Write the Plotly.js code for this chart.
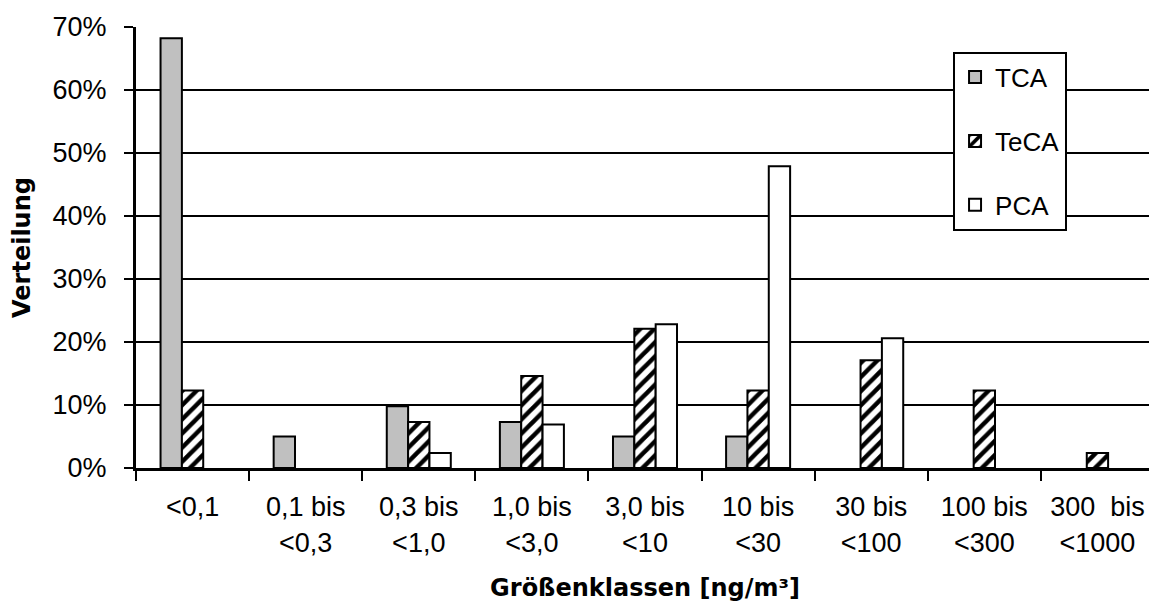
<!DOCTYPE html>
<html>
<head>
<meta charset="utf-8">
<script src="https://cdn.plot.ly/plotly-3.0.1.min.js"></script>
<style>
html, body { margin: 0; padding: 0; overflow: hidden; background: #fff; }
#chart { width: 1154px; height: 606px; }
</style>
</head>
<body>
<div id="chart"></div>
<script>
// Data (null = no bar drawn)
const categories = [
  "&lt;0,1",
  "0,1 bis<br>&lt;0,3",
  "0,3 bis<br>&lt;1,0",
  "1,0 bis<br>&lt;3,0",
  "3,0 bis<br>&lt;10",
  "10 bis<br>&lt;30",
  "30 bis<br>&lt;100",
  "100 bis<br>&lt;300",
  "300\u00a0\u00a0bis<br>&lt;1000"
];
const seriesNames = ["TCA", "TeCA", "PCA"];
const tcaValues  = [0.682, 0.050, 0.098, 0.073, 0.050, 0.050, null, null, null];
const tecaValues = [0.123, null, 0.073, 0.146, 0.221, 0.123, 0.171, 0.123, 0.024];
const pcaValues  = [null, null, 0.024, 0.069, 0.228, 0.479, 0.206, null, null];
const yTickValues = [0, 0.1, 0.2, 0.3, 0.4, 0.5, 0.6, 0.7];

const outline = { color: "#000", width: 2 };

const traces = [
  {
    type: "bar", name: seriesNames[0], x: categories, y: tcaValues,
    legendgroup: "a",
    marker: { color: "#c0c0c0", line: outline }
  },
  {
    type: "bar", name: seriesNames[1], x: categories, y: tecaValues,
    legendgroup: "b",
    marker: {
      color: "#fff", line: outline,
      pattern: { shape: "/", fgcolor: "#000", bgcolor: "#fff", size: 10, solidity: 0.45 }
    }
  },
  {
    type: "bar", name: seriesNames[2], x: categories, y: pcaValues,
    legendgroup: "c",
    marker: { color: "#fff", line: outline }
  }
];

const layout = {
  width: 1154, height: 606,
  margin: { l: 136, r: 0, t: 27, b: 138 },
  paper_bgcolor: "#fff", plot_bgcolor: "#fff",
  barmode: "group", bargap: 0.434, bargroupgap: 0,
  showlegend: true,
  font: { family: "Liberation Sans, Arial, sans-serif", color: "#000", size: 27 },
  xaxis: {
    type: "category",
    tickson: "boundaries",
    ticks: "outside", ticklen: 10, tickwidth: 2, tickcolor: "#000",
    showline: true, linecolor: "#000", linewidth: 3,
    showgrid: false, zeroline: false,
    ticklabelstandoff: 13,
    tickfont: { family: "Liberation Sans, Arial, sans-serif", size: 27, color: "#000" },
    title: { text: "Größenklassen [ng/m³]", font: { family: "DejaVu Sans", size: 24, color: "#000", weight: "bold" }, standoff: 23 },
    fixedrange: true
  },
  yaxis: {
    range: [0, 0.7],
    tickvals: yTickValues,
    tickformat: ".0%",
    ticks: "outside", ticklen: 9, tickwidth: 2, tickcolor: "#000",
    showline: true, linecolor: "#000", linewidth: 3,
    showgrid: true, gridcolor: "#000", gridwidth: 2.5,
    zeroline: false,
    ticklabelstandoff: 12,
    tickfont: { family: "Liberation Sans, Arial, sans-serif", size: 27, color: "#000" },
    title: { text: "Verteilung", font: { family: "DejaVu Sans", size: 24, color: "#000", weight: "bold" }, standoff: 16 },
    fixedrange: true
  },
  legend: {
    x: 0.8026, y: 0.944, xanchor: "left", yanchor: "top",
    bgcolor: "#fff", bordercolor: "#000", borderwidth: 2,
    font: { family: "Liberation Sans, Arial, sans-serif", size: 26, color: "#000" },
    tracegroupgap: 27,
    traceorder: "grouped",
    entrywidth: 90,
    entrywidthmode: "pixels"
  }
};

Plotly.newPlot("chart", traces, layout, { displayModeBar: false, staticPlot: true });
</script>
</body>
</html>
